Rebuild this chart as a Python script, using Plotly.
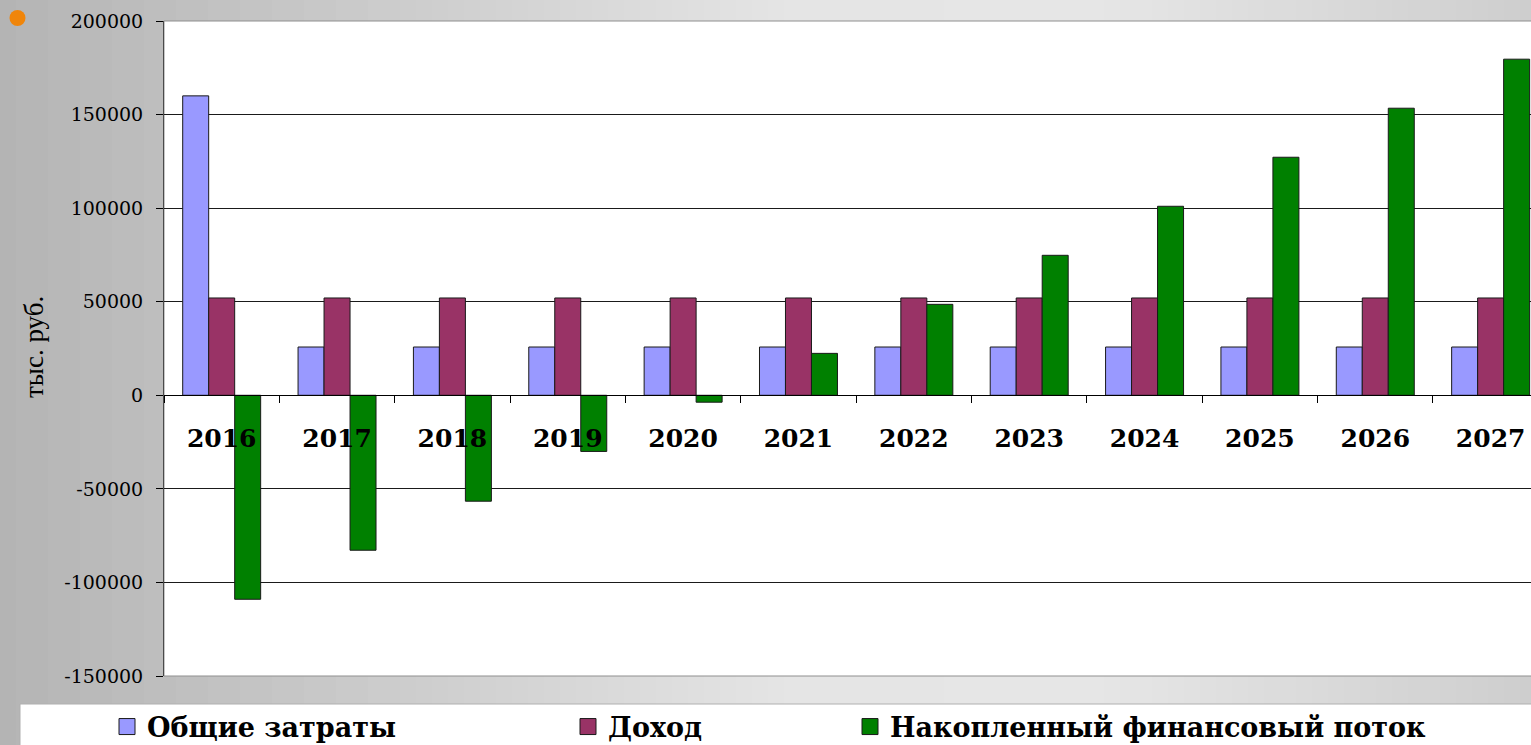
import plotly.graph_objects as go

years = ["2016", "2017", "2018", "2019", "2020", "2021", "2022", "2023", "2024", "2025", "2026", "2027"]
costs = [160000, 25800, 25800, 25800, 25800, 25800, 25800, 25800, 25800, 25800, 25800, 25800]
income = [52000, 52000, 52000, 52000, 52000, 52000, 52000, 52000, 52000, 52000, 52000, 52000]
cumflow = [-109000, -82800, -56600, -30000, -3700, 22400, 48600, 74800, 101000, 127200, 153400, 179600]
series_names = ["Общие затраты", "Доход", "Накопленный финансовый поток"]
series_colors = ["#9999FF", "#993366", "#008000"]
y_tick_values = [-150000, -100000, -50000, 0, 50000, 100000, 150000, 200000]
y_tick_labels = ["-150000", "-100000", "-50000", "0", "50000", "100000", "150000", "200000"]

W, H = 1531, 745
L, T, B = 164, 21, 69
PW = W - L
PH = H - T - B

def px_x(px):
    return (px - L) / PW

def px_y(py):
    return (H - B - py) / PH

fig = go.Figure()
for name, vals, col in zip(series_names, [costs, income, cumflow], series_colors):
    fig.add_trace(go.Bar(x=years, y=vals, name=name, marker=dict(color=col, line=dict(color="#1a1a1a", width=1)),
                         showlegend=False))

legend_ids = ["legend", "legend2", "legend3"]
legend_text_x = [147, 608, 890]
for name, col, lid in zip(series_names, series_colors, legend_ids):
    fig.add_trace(go.Scatter(x=[None], y=[None], mode="markers", name=name, legend=lid,
                             marker=dict(symbol="square", size=16, color=col, line=dict(color="#1a1a1a", width=1))))

# background gradient strips
shapes = []
def bg_gray(px):
    stops = [(0, 180), (400, 205), (800, 229), (1100, 230), (1531, 206)]
    for (x0, c0), (x1, c1) in zip(stops[:-1], stops[1:]):
        if x0 <= px <= x1:
            return c0 + (c1 - c0) * (px - x0) / (x1 - x0)
    return stops[-1][1]

step = 16
for sx in range(0, W, step):
    g = int(round(bg_gray(sx + step / 2)))
    shapes.append(dict(type="rect", xref="paper", yref="paper", layer="below",
                       x0=px_x(sx), x1=px_x(sx + step + 1), y0=px_y(H + 2), y1=px_y(-2),
                       fillcolor=f"rgb({g},{g},{g})", line=dict(width=0)))
# plot area
shapes.append(dict(type="rect", xref="paper", yref="paper", layer="below", x0=0, x1=1.02, y0=0, y1=1,
                   fillcolor="white", line=dict(color="#8f8f8f", width=1)))
# legend box
shapes.append(dict(type="rect", xref="paper", yref="paper", layer="below",
                   x0=px_x(20), x1=px_x(W + 10), y0=px_y(H + 10), y1=px_y(704),
                   fillcolor="white", line=dict(color="#b0b0b0", width=1)))
# orange bullet
shapes.append(dict(type="circle", xref="paper", yref="paper", xsizemode="pixel", ysizemode="pixel",
                   xanchor=px_x(17.5), yanchor=px_y(18), x0=-8, x1=8, y0=-8, y1=8,
                   fillcolor="#F0850A", line=dict(width=0), layer="above"))

legend_font = dict(family="DejaVu Serif", size=27, color="black", weight="bold")
legends = {}
for lid, tx in zip(legend_ids, legend_text_x):
    legends[lid] = dict(x=px_x(tx - 40), xanchor="left", y=px_y(727), yanchor="middle",
                        bgcolor="rgba(0,0,0,0)", borderwidth=0, font=legend_font,
                        orientation="h")

fig.update_layout(
    width=W, height=H,
    margin=dict(l=L, r=0, t=T, b=B, autoexpand=False),
    paper_bgcolor="#d0d0d0",
    plot_bgcolor="rgba(0,0,0,0)",
    barmode="group", bargap=0.324, bargroupgap=0,
    shapes=shapes,
    showlegend=True,
    **legends,
    xaxis=dict(type="category", range=[-0.5, -0.5 + PW / 115.36], anchor="free",
               position=150000 / 350000, showline=True, linecolor="black", linewidth=1,
               ticks="outside", tickson="boundaries", ticklen=7, tickcolor="black",
               tickfont=dict(family="DejaVu Serif", size=25, color="black", weight="bold"),
               ticklabelstandoff=21, showgrid=False, zeroline=False, fixedrange=True),
    yaxis=dict(range=[-150000, 200000], tickvals=y_tick_values, ticktext=y_tick_labels,
               showline=True, linecolor="#4a4a4a", linewidth=1,
               ticks="outside", ticklen=7, tickcolor="black",
               tickfont=dict(family="DejaVu Serif", size=19, color="black"),
               ticklabelstandoff=9,
               showgrid=True, gridcolor="#1a1a1a", gridwidth=1,
               zeroline=True, zerolinecolor="black", zerolinewidth=1, fixedrange=True),
    annotations=[dict(text="тыс. руб.", xref="paper", yref="paper", x=px_x(34), y=px_y(347),
                      xanchor="center", yanchor="middle", textangle=-90, showarrow=False,
                      font=dict(family="Liberation Serif", size=27, color="black"))],
)

fig.write_html("out.html", config={"displayModeBar": False},
               post_script="document.body.style.margin='0';document.body.style.overflow='hidden';")
